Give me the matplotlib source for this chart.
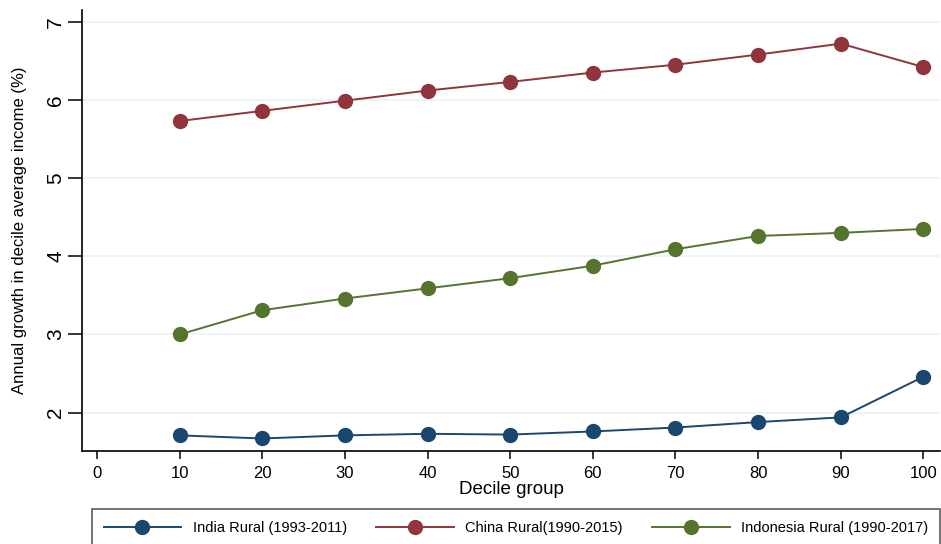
import matplotlib.pyplot as plt
import numpy as np

plt.rcParams['font.family'] = ['Liberation Sans', 'DejaVu Sans']

# decile groups and annual growth (%)
deciles = [10, 20, 30, 40, 50, 60, 70, 80, 90, 100]
india = [1.71, 1.67, 1.71, 1.73, 1.72, 1.76, 1.81, 1.88, 1.94, 2.46]
china = [5.73, 5.86, 5.99, 6.12, 6.23, 6.35, 6.45, 6.58, 6.72, 6.42]
indonesia = [3.00, 3.31, 3.46, 3.59, 3.72, 3.88, 4.09, 4.26, 4.30, 4.35]
labels = ['India Rural (1993-2011)', 'China Rural(1990-2015)', 'Indonesia Rural (1990-2017)']
xticks = np.arange(0, 101, 10)
yticks = [2, 3, 4, 5, 6, 7]

fig = plt.figure(figsize=(9.41, 5.44), dpi=100)
ax = fig.add_axes([82/941, 93/544, 858/941, 441/544])

cols = ['#1a476f', '#90353b', '#55752f']
for ys, c, lab in zip([india, china, indonesia], cols, labels):
    ax.plot(deciles, ys, color=c, lw=1.4, marker='o', ms=10, label=lab)

ax.set_xlim(-1.8, 102)
ax.set_ylim(1.51, 7.15)
ax.set_xticks(xticks)
ax.set_yticks(yticks)
ax.grid(axis='y', color='#eaf2f3', lw=1.2)
ax.set_axisbelow(True)
for s in ['top', 'right']:
    ax.spines[s].set_visible(False)
ax.spines['left'].set_linewidth(1.2)
ax.spines['bottom'].set_linewidth(1.2)
ax.tick_params(axis='x', length=6, width=1.1, direction='out', labelsize=12, pad=5)
ax.tick_params(axis='y', length=10, width=1.1, direction='out', labelsize=15, pad=2)
for t in ax.get_yticklabels():
    t.set_rotation(90)
    t.set_va('center')

ax.set_xlabel('Decile group', fontsize=13.5, labelpad=0)
ax.set_ylabel('Annual growth in decile average income (%)', fontsize=12, labelpad=14)

leg = fig.legend(loc='upper left', bbox_to_anchor=(92/941, 0, 848/941, 34/544 + 0.001),
                 ncol=3, mode='expand', fontsize=10.5, handlelength=5.3,
                 frameon=True, fancybox=False, borderaxespad=0, borderpad=0.8)
leg.get_frame().set_edgecolor('#333333')
leg.get_frame().set_linewidth(1.2)

fig.savefig('out.png', dpi=100)
